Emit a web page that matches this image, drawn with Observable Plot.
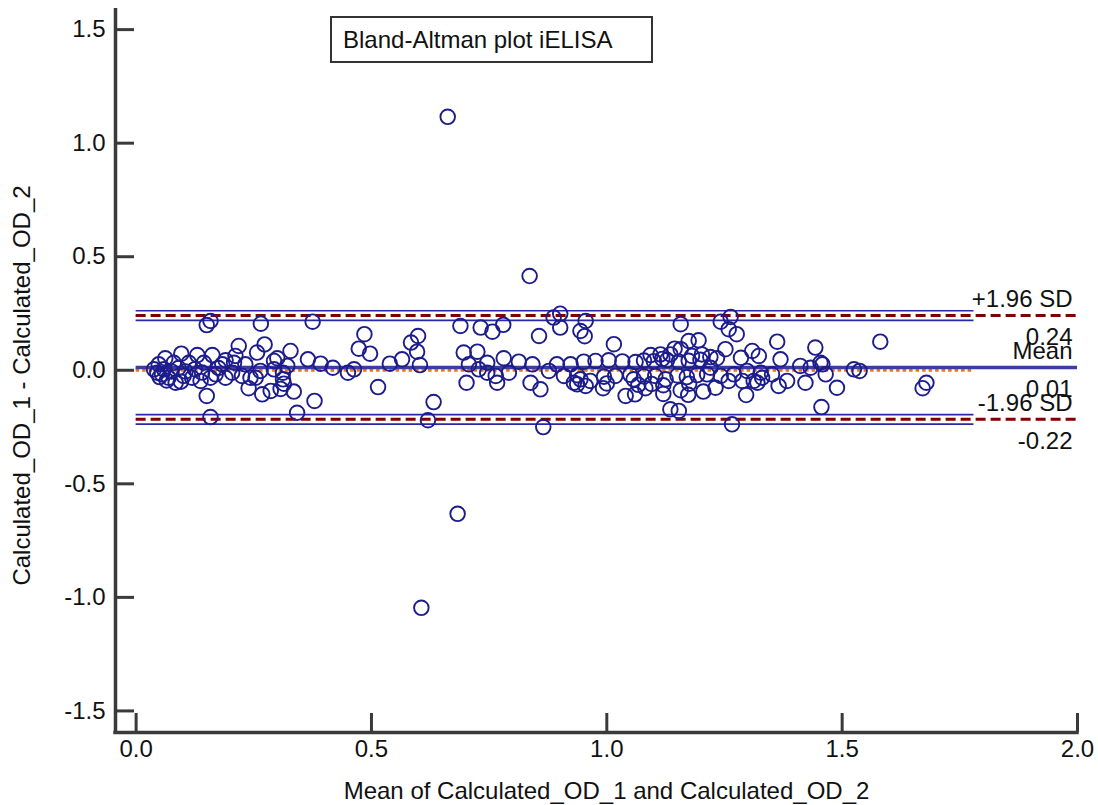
<!DOCTYPE html>
<html>
<head>
<meta charset="utf-8">
<script src="https://cdn.jsdelivr.net/npm/d3@7"></script>
<script src="https://cdn.jsdelivr.net/npm/@observablehq/plot@0.6"></script>
<style>
  html, body { margin: 0; padding: 0; background: #fff; }
  #wrap { position: relative; width: 1098px; height: 805px; }
  #title {
    position: absolute; left: 330px; top: 16px; width: 323px; height: 47px;
    box-sizing: border-box; border: 2px solid #333; background: #fff;
    font-family: "Liberation Sans", Arial, sans-serif; font-size: 24px; color: #111;
    line-height: 43px; padding-left: 11px; white-space: nowrap;
  }
</style>
</head>
<body>
<div id="wrap"><div id="title">Bland-Altman plot iELISA</div></div>
<script>
// ---- data ----
const titleText = "Bland-Altman plot iELISA";
const xLabel = "Mean of Calculated_OD_1 and Calculated_OD_2";
const yLabel = "Calculated_OD_1 - Calculated_OD_2";
const xTicks = [0, 0.5, 1.0, 1.5, 2.0];
const yTicks = [-1.5, -1.0, -0.5, 0, 0.5, 1.0, 1.5];
const xDomain = [-0.0438, 2.0];
const yDomain = [-1.595, 1.593];

const limitNames = ["+1.96 SD", "Mean", "-1.96 SD"];
const limitValues = [0.241, 0.0125, -0.216];
const limitLabels = ["0.24", "0.01", "-0.22"];
const ciValues = [0.262, 0.220, -0.195, -0.237];
const equalityLine = [0.0];
const lineStart = 0;
const ciLineEnd = 1.78;
const limitLineEnd = 2.0;

const meanOD = [
0.662,0.836,0.683,0.606,0.150,0.158,0.265,0.375,0.218,0.273,0.328,0.257,0.062,0.096,0.130,0.162,0.211,0.300,0.365,0.392,
0.418,0.150,0.268,0.335,0.379,0.342,0.158,0.307,0.314,0.286,0.239,0.084,0.137,0.048,0.080,0.112,0.144,0.183,0.232,0.045,
0.055,0.069,0.101,0.119,0.158,0.169,0.190,0.204,0.225,0.243,0.038,0.059,0.293,0.321,0.293,0.312,0.312,0.264,0.254,0.208,
0.190,0.450,0.075,0.090,0.105,0.125,0.140,0.175,0.050,0.065,0.095,0.485,0.473,0.497,0.463,0.514,0.539,0.565,0.584,0.599,
0.597,0.603,0.632,0.620,0.689,0.732,0.757,0.780,0.696,0.725,0.702,0.707,0.746,0.728,0.746,0.764,0.767,0.781,0.792,0.813,
0.842,0.838,0.859,0.865,0.856,0.887,0.901,0.901,0.877,0.894,0.923,0.944,0.955,0.953,0.944,0.955,0.930,1.157,1.242,1.263,
1.259,1.276,1.015,1.362,1.443,1.174,1.195,1.157,1.144,1.135,1.114,1.093,1.181,1.202,1.252,1.309,1.323,1.220,1.285,1.369,
0.951,0.976,1.004,1.033,1.061,1.079,1.100,1.128,1.153,1.174,1.199,1.118,1.234,1.411,1.433,1.454,1.465,1.422,1.365,1.312,
1.296,1.330,1.231,1.205,1.157,1.125,1.103,1.082,1.040,0.992,0.965,1.057,1.018,1.135,1.153,1.266,1.456,0.909,0.937,0.994,
1.050,1.079,1.150,1.170,1.192,0.937,1.000,1.067,1.095,1.120,1.175,1.060,1.120,1.173,1.213,1.242,1.270,1.298,1.327,1.351,
1.220,1.259,1.288,1.320,1.383,1.581,1.525,1.537,1.458,1.489,1.679,1.671
];
const diffOD = [
1.116,0.415,-0.632,-1.046,0.199,0.217,0.205,0.214,0.107,0.114,0.085,0.078,0.053,0.073,0.067,0.067,0.063,0.053,0.048,0.029,
0.011,-0.113,-0.106,-0.094,-0.135,-0.187,-0.206,-0.082,-0.059,-0.091,-0.079,-0.055,-0.047,0.026,0.033,0.033,0.033,0.026,0.026,-0.011,
-0.018,-0.033,-0.025,-0.033,-0.033,-0.018,-0.033,-0.011,-0.025,-0.033,0.004,0.004,0.041,0.019,0.004,-0.011,-0.040,-0.003,-0.033,0.033,
0.044,-0.011,-0.005,0.010,-0.005,0.005,-0.010,0.010,-0.030,-0.045,-0.050,0.159,0.095,0.073,0.004,-0.074,0.029,0.048,0.122,0.151,
0.082,0.023,-0.140,-0.220,0.195,0.188,0.170,0.200,0.078,0.082,-0.055,0.026,0.033,0.004,-0.011,-0.025,-0.055,0.053,-0.011,0.038,
0.026,-0.055,-0.084,-0.250,0.151,0.232,0.249,0.188,-0.003,0.026,0.026,0.173,0.217,0.150,-0.040,-0.069,-0.055,0.203,0.214,0.235,
0.181,0.159,0.115,0.126,0.100,0.129,0.132,0.093,0.095,0.070,0.070,0.067,0.063,0.070,0.093,0.085,0.063,0.058,0.055,0.048,
0.038,0.041,0.044,0.039,0.036,0.043,0.040,0.045,0.038,0.042,0.046,0.050,0.053,0.019,0.011,0.033,-0.018,-0.055,-0.069,-0.047,
-0.109,-0.033,-0.077,-0.094,-0.088,-0.040,-0.025,-0.079,-0.113,-0.079,-0.047,-0.040,-0.025,-0.172,-0.179,-0.238,-0.162,-0.025,-0.022,-0.028,
-0.020,-0.027,-0.023,-0.030,-0.021,-0.062,-0.058,-0.064,-0.060,-0.066,-0.059,-0.106,-0.104,-0.108,-0.018,-0.025,-0.018,-0.003,-0.011,-0.018,
0.011,-0.047,-0.047,-0.055,-0.047,0.126,0.004,-0.003,0.026,-0.077,-0.055,-0.079
];

// ---- build ----
const points = meanOD.map((m, i) => ({mean: m, diff: diffOD[i]}));
const limits = limitNames.map((n, i) => ({name: n, value: limitValues[i], label: limitLabels[i]}));
const fmt = d => d.toFixed(1);
const axisColor = "#3a3a3a";

const chart = Plot.plot({
  width: 1098,
  height: 805,
  marginLeft: 115,
  marginRight: 21,
  marginTop: 8,
  marginBottom: 73,
  x: {domain: xDomain},
  y: {domain: yDomain},
  style: {fontFamily: "'Liberation Sans', Arial, sans-serif", fontSize: "24px", color: "#111", background: "#fff", overflow: "visible"},
  marks: [
    Plot.ruleY(equalityLine, {x1: lineStart, x2: ciLineEnd, stroke: "#e8761e", strokeWidth: 3, strokeDasharray: "3.5,3"}),
    Plot.ruleY(ciValues, {x1: lineStart, x2: ciLineEnd, stroke: "#2828aa", strokeWidth: 1.7}),
    Plot.ruleY([limitValues[1]], {x1: lineStart, x2: limitLineEnd, stroke: "#3c3ca2", strokeWidth: 3.5}),
    Plot.ruleY([limitValues[0], limitValues[2]], {x1: lineStart, x2: limitLineEnd, stroke: "#800000", strokeWidth: 3, strokeDasharray: "10,5"}),
    Plot.dot(points, {x: "mean", y: "diff", r: 7.3, stroke: "#1c1c8c", strokeWidth: 1.9, fill: "none"}),
    Plot.text(limits, {y: "value", text: "name", frameAnchor: "right", textAnchor: "end", lineAnchor: "middle", dx: -5, dy: -16, fill: "#111"}),
    Plot.text(limits, {y: "value", text: "label", frameAnchor: "right", textAnchor: "end", lineAnchor: "middle", dx: -5, dy: 22, fill: "#111"}),
    Plot.axisX(xTicks, {tickSize: -19, tickPadding: 26, tickFormat: fmt, stroke: axisColor, strokeWidth: 3, label: null}),
    Plot.axisY(yTicks, {tickSize: -19, tickPadding: 29, tickFormat: fmt, stroke: axisColor, strokeWidth: 3, label: null}),
    Plot.ruleX([xDomain[0]], {stroke: axisColor, strokeWidth: 3.5}),
    Plot.ruleY([yDomain[0]], {stroke: axisColor, strokeWidth: 3.5, strokeLinecap: "square"}),
    Plot.text([xLabel], {frameAnchor: "bottom", textAnchor: "middle", lineAnchor: "middle", dx: 10, dy: 59, fill: "#111"}),
    Plot.text([yLabel], {frameAnchor: "left", textAnchor: "middle", lineAnchor: "middle", rotate: -90, dx: -93, dy: 15, fill: "#111"})
  ]
});
document.getElementById("wrap").insertBefore(chart, document.getElementById("title"));
</script>
</body>
</html>
